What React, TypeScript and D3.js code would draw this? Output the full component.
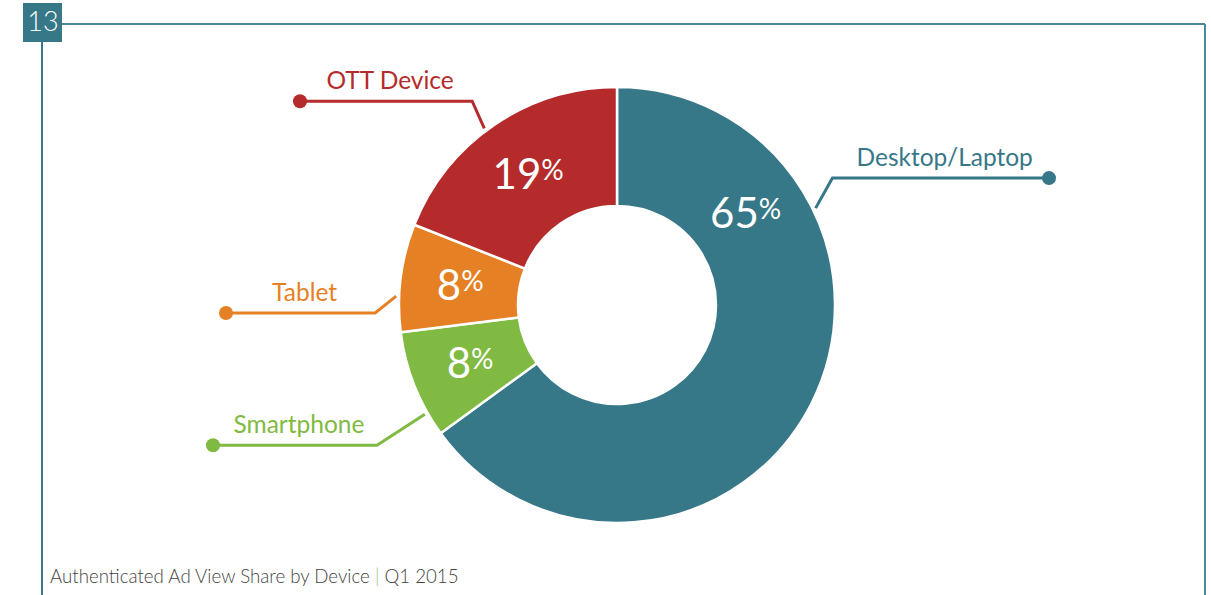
import React from "react";
import * as d3 from "d3";

const categories = ["Desktop/Laptop", "Smartphone", "Tablet", "OTT Device"];
const values = [65, 8, 8, 19];
const colors = ["#367788", "#80BA42", "#E68024", "#B52B2B"];
const pageNumber = "13";
const captionMain = "Authenticated Ad View Share by Device";
const captionSub = "Q1 2015";

// layout (degrees clockwise from top)
const labelAngleOverride: (number | null)[] = [54.5, null, null, null];
const leaderStartDeg = [64, 240.4, -87.7, -36.9];
const leaderElbowDeg = [59.5, 239.7, -91.9, -35.4];
const leaderElbowR = [250, 278, 242, 250];
const leaderDotX = [1049, 213, 226, 300];

const W = 1211;
const H = 595;
const cx = 617;
const cy = 305;
const outerR = 218;
const innerR = 99;
const labelR = 158;
const FONT = "Lato, 'Open Sans', sans-serif";

const rad = (d: number) => (d * Math.PI) / 180;
const polar = (deg: number, r: number): [number, number] => [
  cx + r * Math.sin(rad(deg)),
  cy - r * Math.cos(rad(deg)),
];

export default function App() {
  const pie = d3
    .pie<number>()
    .sort(null)
    .value((d) => d)
    .startAngle(0)
    .endAngle(2 * Math.PI);
  const arcs = pie(values);
  const arcGen = d3
    .arc<d3.PieArcDatum<number>>()
    .innerRadius(innerR)
    .outerRadius(outerR);
  const line = d3.line();

  return (
    <svg
      width={W}
      height={H}
      style={{ position: "absolute", left: 0, top: 0, background: "#fff" }}
      fontFamily={FONT}
    >
      {/* frame */}
      <line x1={62} y1={24} x2={1205} y2={24} stroke="#4d8898" strokeWidth={2} />
      <line x1={1205} y1={24} x2={1205} y2={H} stroke="#4d8898" strokeWidth={2} />
      <line x1={42} y1={42} x2={42} y2={H} stroke="#367788" strokeWidth={2} />
      <rect x={23} y={3} width={39} height={39} fill="#367788" />
      <text x={43} y={31} fill="#fff" fontSize={27} fontWeight={300} textAnchor="middle">
        {pageNumber}
      </text>

      {/* donut */}
      <g transform={`translate(${cx},${cy})`}>
        {arcs.map((a, i) => (
          <path key={i} d={arcGen(a) || ""} fill={colors[i]} stroke="#fff" strokeWidth={2.5} />
        ))}
      </g>

      {/* percentage labels */}
      {arcs.map((a, i) => {
        const mid = ((a.startAngle + a.endAngle) / 2) * (180 / Math.PI);
        const ang = labelAngleOverride[i] ?? mid;
        const [x, y] = polar(ang, labelR);
        return (
          <text key={i} x={x} y={y + 15} fill="#fff" textAnchor="middle" fontWeight={400}>
            <tspan fontSize={42}>{values[i]}</tspan>
            <tspan fontSize={28} dy={-9}>%</tspan>
          </text>
        );
      })}

      {/* leaders */}
      {categories.map((c, i) => {
        const s = polar(leaderStartDeg[i], outerR + 3);
        const e = polar(leaderElbowDeg[i], leaderElbowR[i]);
        const d: [number, number] = [leaderDotX[i], e[1]];
        const tx = (e[0] + d[0]) / 2 + 4;
        return (
          <g key={c}>
            <path d={line([s, e, d]) || ""} fill="none" stroke={colors[i]} strokeWidth={3} />
            <circle cx={d[0]} cy={d[1]} r={7} fill={colors[i]} />
            <text x={tx} y={e[1] - 12} fill={colors[i]} fontSize={24.5} textAnchor="middle">
              {c}
            </text>
          </g>
        );
      })}

      {/* caption */}
      <text x={50} y={583} fontSize={18.7} fill="#444" fontWeight={300}>
        {captionMain + " "}
        <tspan fill="#9bc96a">|</tspan>
        {" " + captionSub}
      </text>
    </svg>
  );
}
